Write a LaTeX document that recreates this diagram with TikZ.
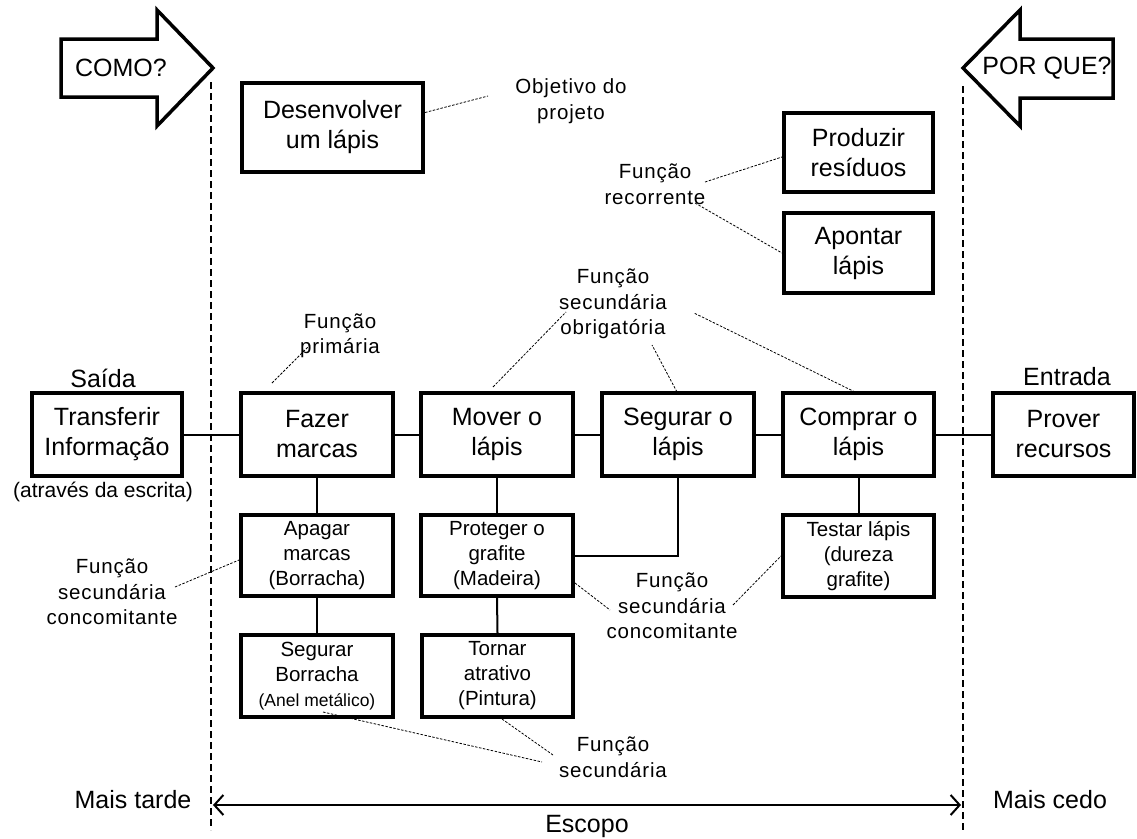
\documentclass[tikz,border=0pt]{standalone}
\usepackage{fontspec}
\setmainfont{Liberation Sans}
\newfontfamily\notefont{Liberation Sans}[LetterSpace=4]
\usetikzlibrary{arrows.meta}
\begin{document}
\begin{tikzpicture}[x=1pt,y=-1pt,
  box/.style={draw,line width=4pt,rectangle,align=center,inner sep=0pt,
    font=\fontsize{25}{30}\selectfont},
  subbox/.style={draw,line width=4pt,rectangle,align=center,inner sep=0pt,
    font=\fontsize{20.5}{25}\selectfont},
  note/.style={align=center,inner sep=0pt,font=\notefont\fontsize{20.5}{25.5}\selectfont},
  big/.style={inner sep=0pt,font=\fontsize{25}{30}\selectfont},
  link/.style={line width=2pt},
  hint/.style={line width=0.8pt,dash pattern=on 2.5pt off 1.5pt},
  bound/.style={line width=1.6pt,dash pattern=on 7pt off 4pt},
  bigarrow/.style={draw,line width=3.5pt,line join=miter},
  barb/.tip={Straight Barb[length=9pt,width=20pt]}]

\useasboundingbox (0,0) rectangle (1137,838);

% direction arrows
\draw[bigarrow] (61,39) -- (157,39) -- (157,10) -- (213,68) -- (157,126) -- (157,97) -- (61,97) -- cycle;
\node[big] (como) at (121,68) {COMO?};
\draw[bigarrow] (1113,39) -- (1020,39) -- (1020,10) -- (963,68) -- (1020,126) -- (1020,98) -- (1113,98) -- cycle;
\node[big] (porque) at (1047,68) {POR QUE?};

% scope boundaries
\coordinate (lt) at (211,82);
\coordinate (lb) at (211,830);
\coordinate (rt) at (963,86);
\coordinate (rb) at (963,830);
\draw[bound] (lt) -- (lb);
\draw[bound] (rt) -- (rb);

% top boxes
\node[box,minimum width=181pt,minimum height=89pt] (desenv) at (332.5,127.5) {Desenvolver\\um lápis};
\node[box,minimum width=149pt,minimum height=79pt] (produz) at (858.5,152.5) {Produzir\\resíduos};
\node[box,minimum width=149pt,minimum height=80pt] (apont) at (858.5,253) {Apontar\\lápis};

% main chain
\node[box,minimum width=150pt,minimum height=83pt] (trans) at (107,434.5) {Transferir\\Informação};
\node[box,minimum width=152pt,minimum height=83pt] (fazer) at (317,434.5) {Fazer\\marcas};
\node[box,minimum width=152pt,minimum height=83pt] (mover) at (497,434.5) {Mover o\\lápis};
\node[box,minimum width=152pt,minimum height=83pt] (segur) at (678,434.5) {Segurar o\\lápis};
\node[box,minimum width=151pt,minimum height=83pt] (compr) at (858.5,434.5) {Comprar o\\lápis};
\node[box,minimum width=141pt,minimum height=83pt] (prover) at (1063.5,434.5) {Prover\\recursos};

% secondary boxes
\node[subbox,minimum width=152pt,minimum height=81pt] (apagar) at (317,555.5) {Apagar\\marcas\\(Borracha)};
\node[subbox,minimum width=152pt,minimum height=82pt] (segborr) at (317,676) {Segurar\\Borracha\\{\fontsize{17.5}{25}\selectfont(Anel metálico)}};
\node[subbox,minimum width=152pt,minimum height=81pt] (proteg) at (497,555.5) {Proteger o\\grafite\\(Madeira)};
\node[subbox,minimum width=151pt,minimum height=82pt] (tornar) at (497.5,676) {Tornar\\atrativo\\(Pintura)};
\node[subbox,minimum width=151pt,minimum height=82pt] (testar) at (858.5,556) {Testar lápis\\(dureza\\grafite)};

% solid links
\draw[link] (trans.east) -- (fazer.west);
\draw[link] (fazer.east) -- (mover.west);
\draw[link] (mover.east) -- (segur.west);
\draw[link] (segur.east) -- (compr.west);
\draw[link] (compr.east) -- (prover.west);
\draw[link] (fazer.south) -- (apagar.north);
\draw[link] (apagar.south) -- (segborr.north);
\draw[link] (mover.south) -- (proteg.north);
\draw[link] (proteg.south) -- (tornar.north);
\draw[link] (segur.south) -- (segur.south |- proteg.east) -- (proteg.east);
\draw[link] (compr.south) -- (testar.north);

% side labels
\node[big] (saida) at (103,378) {Saída};
\node[big] (entrada) at (1067,377) {Entrada};
\node[inner sep=0pt,font=\fontsize{21}{25}\selectfont] (escrita) at (103,492) {(através da escrita)};
\node[big] (tarde) at (133,800) {Mais tarde};
\node[big] (cedo) at (1050,800) {Mais cedo};
\node[big] (escopo) at (587,826) {Escopo};

% scope arrow
\coordinate (el) at (213,805);
\coordinate (er) at (961,805);
\draw[line width=2pt,barb-barb] (el) -- (er);

% annotations
\node[note] (obj) at (571,101) {Objetivo do\\projeto};
\node[note] (rec) at (655,184) {Função\\recorrente};
\node[note] (prim) at (340,336) {Função\\primária};
\node[note] (obrig) at (613,304) {Função\\secundária\\obrigatória};
\node[note] (conc1) at (112,592) {Função\\secundária\\concomitante};
\node[note] (conc2) at (672,606) {Função\\secundária\\concomitante};
\node[note] (sec) at (613,757) {Função\\secundária};

\coordinate (h1) at (488,96);
\coordinate (h2) at (705,182);
\coordinate (h3) at (695,203);
\coordinate (h4a) at (272,383);
\coordinate (h4b) at (310,345);
\coordinate (h5a) at (493,387);
\coordinate (h5b) at (566,312);
\coordinate (h6a) at (677,392);
\coordinate (h6b) at (652,345);
\coordinate (h7a) at (855,392);
\coordinate (h7b) at (694,313);
\coordinate (h8) at (175,587);
\coordinate (h9) at (610,610);
\coordinate (h10) at (733,605);
\coordinate (h11a) at (323,712);
\coordinate (h11b) at (542,762);
\coordinate (h12) at (553,755);

\draw[hint] ([yshift=15pt]desenv.east) -- (h1);
\draw[hint] (h2) -- ([yshift=-4.5pt]produz.west);
\draw[hint] (h3) -- (apont.west);
\draw[hint] (h4a) -- (h4b);
\draw[hint] (h5a) -- (h5b);
\draw[hint] (h6a) -- (h6b);
\draw[hint] (h7a) -- (h7b);
\draw[hint] (h8) -- ([yshift=-4.5pt]apagar.west);
\draw[hint] ([yshift=-27.5pt]proteg.east) -- (h9);
\draw[hint] (h10) -- (testar.west);
\draw[hint] (h11a) -- (h11b);
\draw[hint] ([xshift=4.5pt]tornar.south) -- (h12);
\end{tikzpicture}
\end{document}
